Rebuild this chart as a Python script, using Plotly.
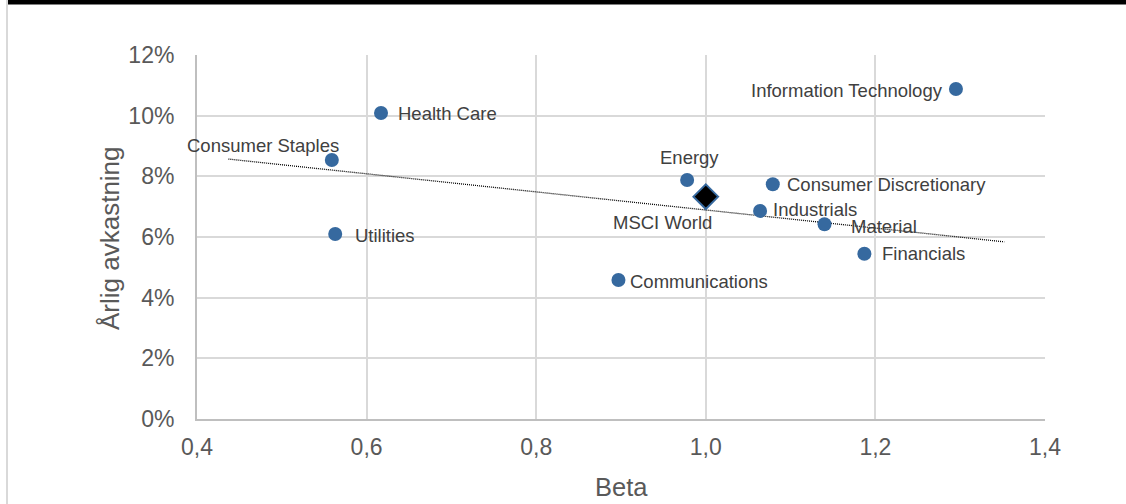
import plotly.graph_objects as go

# Sector betas and annual returns (%)
sectors = ["Information Technology", "Health Care", "Consumer Staples", "Utilities",
           "Energy", "Consumer Discretionary", "Industrials", "Material",
           "Financials", "Communications"]
beta = [1.295, 0.617, 0.559, 0.563, 0.978, 1.079, 1.064, 1.140, 1.187, 0.897]
annual_return = [10.88, 10.09, 8.54, 6.10, 7.88, 7.74, 6.86, 6.42, 5.45, 4.58]

# Benchmark index
index_name = "MSCI World"
index_beta = [1.0]
index_return = [7.33]

# Linear trend line endpoints
trend_beta = [0.437, 1.352]
trend_return = [8.57, 5.84]

x_ticks = [0.4, 0.6, 0.8, 1.0, 1.2, 1.4]
y_ticks = [0, 2, 4, 6, 8, 10, 12]
y_tick_text = [f"{v}%" for v in y_ticks]

BLUE = "#36699F"
TXT = "#595959"
LBL = "#404040"
GRID = "#D9D9D9"
FONT = "Liberation Sans, Arial, sans-serif"

W, H = 1126, 504
L, R, T, B = 197, 81, 55, 85
PW, PH = W - L - R, H - T - B


def px_x(p):
    return (p - L) / PW


def px_y(p):
    return (H - B - p) / PH


fig = go.Figure()

fig.add_trace(go.Scatter(
    x=trend_beta, y=trend_return, mode="lines",
    line=dict(color="black", width=1.3, dash="1px,1px"),
    hoverinfo="skip", showlegend=False,
))

fig.add_trace(go.Scatter(
    x=beta, y=annual_return, mode="markers", text=sectors,
    marker=dict(color=BLUE, size=14, line=dict(width=0)),
    showlegend=False,
))

fig.add_trace(go.Scatter(
    x=index_beta, y=index_return, mode="markers", text=[index_name],
    marker=dict(symbol="diamond", color="black", size=19,
                line=dict(color=BLUE, width=2)),
    showlegend=False,
))

# Label placement per point: (xanchor, xshift, yshift)
label_pos = {
    "Information Technology": ("right", -11, -2),
    "Health Care": ("left", 15, -1),
    "Consumer Staples": ("right", 9, 14),
    "Utilities": ("left", 18, -2),
    "Energy": ("center", 2, 22),
    "Consumer Discretionary": ("left", 12, 0),
    "Industrials": ("left", 11, 1),
    "Material": ("left", 24, -2),
    "Financials": ("left", 16, 0),
    "Communications": ("left", 10, -1),
}

LABEL_SIZE = 18.5
annotations = []
for name, bx, ry in zip(sectors, beta, annual_return):
    xa, xs, ys = label_pos[name]
    annotations.append(dict(
        x=bx, y=ry, xref="x", yref="y", text=name, showarrow=False,
        xanchor=xa, yanchor="middle", xshift=xs, yshift=ys,
        font=dict(family=FONT, size=LABEL_SIZE, color=LBL),
    ))
annotations.append(dict(
    x=index_beta[0], y=index_return[0], xref="x", yref="y", text=index_name,
    showarrow=False, xanchor="center", yanchor="middle", xshift=-43, yshift=-26,
    font=dict(family=FONT, size=LABEL_SIZE, color=LBL),
))

# Axis titles
annotations.append(dict(
    x=0, y=0.5, xref="paper", yref="paper", text="Årlig avkastning",
    showarrow=False, textangle=-90, xanchor="center", yanchor="middle",
    xshift=110 - L, yshift=-1, font=dict(family=FONT, size=26, color=TXT),
))
annotations.append(dict(
    x=0.5, y=0, xref="paper", yref="paper", text="Beta",
    showarrow=False, xanchor="center", yanchor="middle",
    yshift=-(487 - (H - B)), font=dict(family=FONT, size=25.5, color=TXT),
))

shapes = [
    # top frame bar
    dict(type="rect", xref="paper", yref="paper",
         x0=px_x(8), x1=px_x(W), y0=px_y(0), y1=px_y(4.5),
         fillcolor="black", line=dict(width=0), layer="above"),
    # left frame edge
    dict(type="line", xref="paper", yref="paper",
         x0=px_x(7), x1=px_x(7), y0=px_y(0), y1=px_y(H),
         line=dict(color=GRID, width=2), layer="above"),
]

fig.update_layout(
    width=W, height=H,
    margin=dict(l=L, r=R, t=T, b=B, pad=0),
    paper_bgcolor="white", plot_bgcolor="white",
    separators=",.",
    annotations=annotations, shapes=shapes,
    font=dict(family=FONT, color=TXT),
    hovermode="closest",
)

fig.update_xaxes(
    range=[0.4, 1.4], tickvals=x_ticks, tickformat=".1f",
    showgrid=True, gridcolor=GRID, gridwidth=2,
    showline=True, linecolor="#BFBFBF", linewidth=2,
    zeroline=False, ticks="", ticklabelstandoff=6,
    tickfont=dict(family=FONT, size=23, color=TXT),
)
fig.update_yaxes(
    range=[0, 12], tickvals=y_ticks, ticktext=y_tick_text,
    showgrid=True, gridcolor=GRID, gridwidth=2,
    showline=True, linecolor="#BFBFBF", linewidth=2,
    zeroline=False, ticks="", ticklabelstandoff=16,
    tickfont=dict(family=FONT, size=23, color=TXT),
)

fig.write_html("out.html")
